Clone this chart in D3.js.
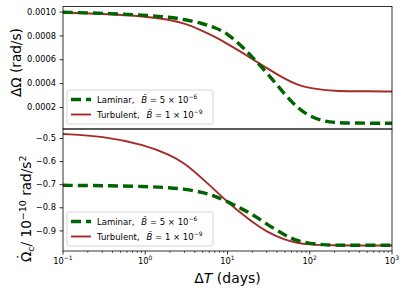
<!DOCTYPE html>
<html>
<head>
<meta charset="utf-8">
<script src="https://cdn.jsdelivr.net/npm/d3@7"></script>
<style>
  body { margin: 0; background: #fff; }
  svg { font-family: "DejaVu Sans", sans-serif; }
</style>
</head>
<body>
<svg id="chart"></svg>
<script>
// time lag values (days)
var dT = [0.1, 0.3, 1, 2, 3, 5, 7, 10, 15, 20, 30, 50, 70, 100, 150, 200, 300, 1000];
// top panel: delta omega (rad/s)
var dOmegaLaminar = [0.000999, 0.000990, 0.000975, 0.000956, 0.000938, 0.000904, 0.000871, 0.000822, 0.000711, 0.000623, 0.000493, 0.000307, 0.000200, 0.000124, 0.0000838, 0.0000738, 0.0000687, 0.0000671];
var dOmegaTurbulent = [0.000996, 0.000985, 0.000965, 0.000935, 0.000906, 0.000843, 0.000793, 0.000734, 0.000661, 0.000606, 0.000531, 0.000438, 0.000390, 0.000362, 0.000346, 0.000340, 0.000336, 0.000334];
// bottom panel: omega dot (1e-10 rad/s^2)
var omDotLaminar = [-0.7027, -0.7040, -0.7075, -0.7131, -0.7187, -0.7330, -0.7490, -0.7728, -0.8052, -0.8282, -0.8702, -0.9199, -0.9429, -0.9550, -0.9602, -0.9615, -0.9623, -0.9623];
var omDotTurbulent = [-0.4806, -0.4893, -0.5282, -0.5715, -0.6061, -0.6754, -0.7230, -0.7749, -0.8269, -0.8615, -0.9048, -0.9394, -0.9524, -0.9589, -0.9619, -0.9623, -0.9630, -0.9632];
var topTicks = [0.0002, 0.0004, 0.0006, 0.0008, 0.0010];
var botTicks = [-0.9, -0.8, -0.7, -0.6, -0.5];
var xTicks = [0.1, 1, 10, 100, 1000];
var xExp = ["\u22121", "0", "1", "2", "3"];

var W = 407, H = 294;
var left = 63, right = 392, topY = 6.5, mid = 129, bottom = 251;
var green = "#006400", red = "#a52a2a";

var svg = d3.select("#chart").attr("width", W).attr("height", H);

var x = d3.scaleLog().domain([0.1, 1000]).range([left, right]);
var yTop = d3.scaleLinear().domain([0.0000193, 0.0010467]).range([mid, topY]);
var yBot = d3.scaleLinear().domain([-0.987, -0.459]).range([bottom, mid]);

function drawPanel(y, ticks, fmt, lam, turb, y0, y1) {
    var g = svg.append("g");
    var clipId = "clip" + Math.round(y0);
    svg.append("clipPath").attr("id", clipId)
        .append("rect").attr("x", left).attr("y", y0).attr("width", right - left).attr("height", y1 - y0);

    // smooth the hand-read points a little
    var line = d3.line()
        .x(function(d, i) { return x(dT[i]); })
        .y(function(d) { return y(d); })
        .curve(d3.curveBasis);

    g.append("path").datum(turb)
        .attr("d", line)
        .attr("clip-path", "url(#" + clipId + ")")
        .style("fill", "none").style("stroke", red).style("stroke-width", 1.9);
    g.append("path").datum(lam)
        .attr("d", line)
        .attr("clip-path", "url(#" + clipId + ")")
        .style("fill", "none").style("stroke", green).style("stroke-width", 3.4)
        .style("stroke-dasharray", "10,5");

    // y ticks
    var t = g.selectAll(".yt").data(ticks).enter().append("g")
        .attr("transform", function(d) { return "translate(0," + y(d) + ")"; });
    t.append("line").attr("x1", left - 3.5).attr("x2", left)
        .style("stroke", "#000").style("stroke-width", 0.8);
    t.append("text").attr("x", left - 7).attr("dy", "0.32em")
        .attr("text-anchor", "end").style("font-size", "8.3px")
        .text(function(d) { return fmt(d); });

    // frame
    g.append("rect").attr("x", left).attr("y", y0).attr("width", right - left).attr("height", y1 - y0)
        .style("fill", "none").style("stroke", "#000").style("stroke-width", 0.8);

    // legend
    var ly = y1 - 39;
    var lg = g.append("g").attr("transform", "translate(67," + ly + ")");
    lg.append("rect").attr("width", 146).attr("height", 34).attr("rx", 2)
        .style("fill", "#fff").style("fill-opacity", 0.8).style("stroke", "#ccc").style("stroke-width", 0.8);
    var items = [
        { c: green, w: 3.4, dash: "10,5", name: "Laminar,", val: "5", ex: "\u22126" },
        { c: red, w: 1.9, dash: null, name: "Turbulent,", val: "1", ex: "\u22129" }
    ];
    items.forEach(function(it, i) {
        var cy = 9.5 + i * 15;
        lg.append("line").attr("x1", 4).attr("x2", 24).attr("y1", cy).attr("y2", cy)
            .style("stroke", it.c).style("stroke-width", it.w)
            .style("stroke-dasharray", it.dash);
        var tx = lg.append("text").attr("x", 30).attr("y", cy + 3).style("font-size", "8.5px");
        tx.append("tspan").text(it.name + "\u2002 ");
        tx.append("tspan").style("font-style", "italic").text("B\u0303");
        tx.append("tspan").text(" = " + it.val + " \u00d7 10");
        tx.append("tspan").attr("dy", -3.5).style("font-size", "6px").text(it.ex);
    });
    return g;
}

drawPanel(yTop, topTicks, d3.format(".4f"), dOmegaLaminar, dOmegaTurbulent, topY, mid);
drawPanel(yBot, botTicks, d3.format(".1f"), omDotLaminar, omDotTurbulent, mid, bottom);

// x axis (bottom panel)
var minor = [];
for (var k = -1; k < 3; k++) {
    for (var m = 2; m < 10; m++) minor.push(m * Math.pow(10, k));
}
svg.selectAll(".xm").data(minor).enter().append("line")
    .attr("x1", function(d) { return x(d); }).attr("x2", function(d) { return x(d); })
    .attr("y1", bottom).attr("y2", bottom + 2)
    .style("stroke", "#000").style("stroke-width", 0.6);
var xt = svg.selectAll(".xt").data(xTicks).enter().append("g")
    .attr("transform", function(d) { return "translate(" + x(d) + "," + bottom + ")"; });
xt.append("line").attr("y1", 0).attr("y2", 3.5).style("stroke", "#000").style("stroke-width", 0.8);
var xl = xt.append("text").attr("y", 12.5).attr("text-anchor", "middle").style("font-size", "8.3px");
xl.append("tspan").text("10");
xl.append("tspan").attr("dy", -3.5).style("font-size", "6px").text(function(d, i) { return xExp[i]; });

// axis labels
var xlab = svg.append("text").attr("x", (left + right) / 2).attr("y", 283)
    .attr("text-anchor", "middle").style("font-size", "14px");
xlab.append("tspan").text("\u0394");
xlab.append("tspan").style("font-style", "italic").text("T");
xlab.append("tspan").text(" (days)");

svg.append("text").attr("transform", "translate(21,97) rotate(-90)")
    .style("font-size", "13.6px").text("\u0394\u03a9 (rad/s)");

var ylab = svg.append("text").attr("transform", "translate(31,262) rotate(-90)")
    .style("font-size", "13.6px");
ylab.append("tspan").text("\u03a9");
ylab.append("tspan").attr("dx", -8.6).attr("dy", -3).text("\u02d9");
ylab.append("tspan").attr("dx", 1.8).attr("dy", 6).style("font-size", "9.5px").text("c");
ylab.append("tspan").attr("dy", -3).text("/ 10");
ylab.append("tspan").attr("dy", -5.5).style("font-size", "9.5px").text("\u221210");
ylab.append("tspan").attr("dy", 5.5).text(" rad/s");
ylab.append("tspan").attr("dy", -5.5).style("font-size", "9.5px").text("2");
</script>
</body>
</html>
